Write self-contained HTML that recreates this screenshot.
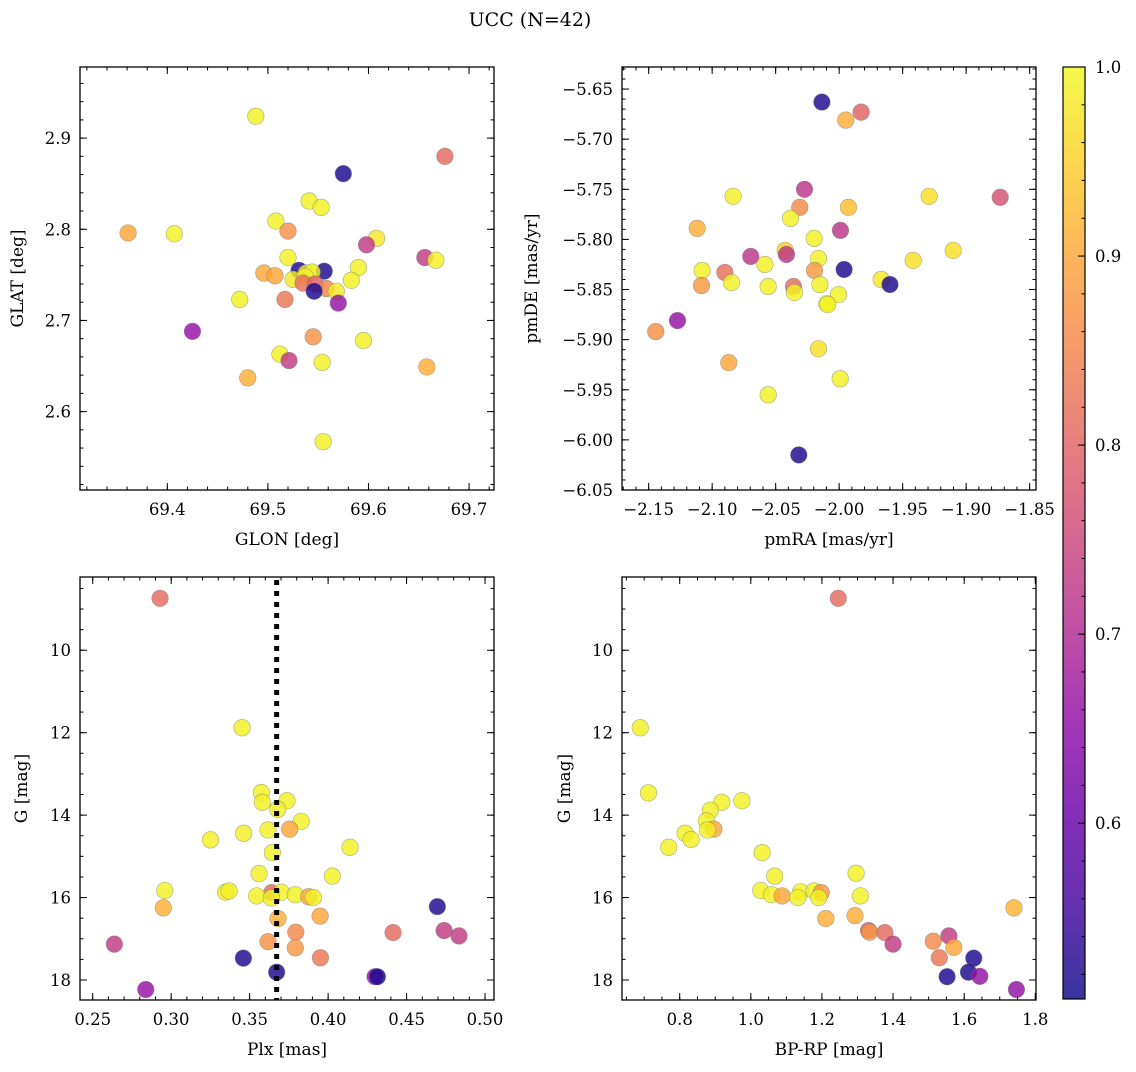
<!DOCTYPE html>
<html><head><meta charset="utf-8"><style>
body{margin:0;background:#fff;}
svg text{font-family:"DejaVu Serif","Liberation Serif",serif;fill:#000;}
</style></head><body>
<svg id="fig" width="1136" height="1067" xmlns="http://www.w3.org/2000/svg">
<defs><linearGradient id="cbg" x1="0" y1="1" x2="0" y2="0">
<stop offset="0" stop-color="#0d0887"/><stop offset="0.1" stop-color="#41049d"/><stop offset="0.2" stop-color="#6a00a8"/><stop offset="0.3" stop-color="#8f0da4"/><stop offset="0.4" stop-color="#b12a90"/><stop offset="0.5" stop-color="#cc4778"/><stop offset="0.6" stop-color="#e16462"/><stop offset="0.7" stop-color="#f2844b"/><stop offset="0.8" stop-color="#fca636"/><stop offset="0.9" stop-color="#fcce25"/><stop offset="1" stop-color="#f0f921"/>
</linearGradient></defs>
<text x="530" y="26" font-size="19" text-anchor="middle">UCC (N=42)</text>
</svg>
<script>
// ---- data ----
const glon=[69.488,69.676,69.575,69.541,69.553,69.508,69.361,69.407,69.520,69.608,69.598,69.520,69.656,69.667,69.590,69.531,69.556,69.496,69.507,69.538,69.544,69.525,69.537,69.583,69.535,69.547,69.558,69.546,69.568,69.472,69.517,69.570,69.425,69.545,69.595,69.512,69.521,69.554,69.658,69.480,69.555];
const glat=[2.924,2.880,2.861,2.831,2.824,2.809,2.796,2.795,2.798,2.790,2.783,2.769,2.769,2.766,2.758,2.755,2.754,2.752,2.749,2.752,2.753,2.745,2.748,2.744,2.741,2.740,2.735,2.732,2.732,2.723,2.723,2.719,2.688,2.682,2.678,2.663,2.656,2.654,2.649,2.637,2.567];
const probPos=[0.99,0.81,0.52,0.99,0.99,0.99,0.90,0.99,0.87,0.98,0.73,0.99,0.73,0.99,0.99,0.52,0.52,0.90,0.90,0.99,0.99,0.98,0.99,0.99,0.82,0.80,0.85,0.52,0.98,0.99,0.83,0.66,0.66,0.87,0.99,0.99,0.73,0.99,0.91,0.91,0.99];
const pmra=[-2.0136,-1.9827,-1.9948,-2.0273,-2.0835,-1.9291,-1.8732,-2.031,-1.9927,-2.0383,-2.1118,-1.999,-2.0197,-2.0425,-2.0415,-2.0696,-1.9102,-2.0163,-2.0585,-1.9417,-2.1079,-2.0194,-1.9961,-2.09,-2.0848,-2.1084,-2.0559,-2.036,-2.0152,-1.9669,-1.96,-2.0352,-2.0005,-2.0097,-2.009,-2.1273,-2.1444,-2.0163,-2.0869,-1.9992,-2.0559,-2.0318];
const pmde=[-5.663,-5.673,-5.681,-5.750,-5.757,-5.757,-5.758,-5.768,-5.768,-5.779,-5.789,-5.791,-5.799,-5.811,-5.815,-5.817,-5.811,-5.819,-5.825,-5.821,-5.831,-5.831,-5.830,-5.833,-5.843,-5.846,-5.847,-5.847,-5.845,-5.840,-5.845,-5.853,-5.855,-5.864,-5.865,-5.881,-5.892,-5.909,-5.923,-5.939,-5.955,-6.015];
const probPm=[0.52,0.80,0.91,0.72,0.99,0.97,0.77,0.86,0.93,0.99,0.91,0.72,0.99,0.95,0.72,0.72,0.97,0.99,0.99,0.97,0.99,0.88,0.52,0.82,0.99,0.88,0.99,0.81,0.99,0.98,0.52,0.99,0.99,1.0,0.99,0.66,0.87,0.97,0.90,0.99,0.99,0.52];
const plx=[0.2929,0.3452,0.3575,0.3581,0.3738,0.3679,0.3828,0.3755,0.3617,0.3462,0.325,0.414,0.3645,0.356,0.4027,0.2959,0.3347,0.3369,0.3641,0.3702,0.3791,0.3545,0.3638,0.3876,0.3906,0.295,0.4696,0.3681,0.3949,0.3794,0.4414,0.4739,0.4834,0.3617,0.2638,0.3791,0.346,0.3951,0.3672,0.4299,0.4314,0.2838];
const gPlx=[8.74,11.88,13.45,13.69,13.65,13.86,14.15,14.34,14.36,14.44,14.60,14.78,14.91,15.42,15.48,15.83,15.87,15.84,15.88,15.87,15.93,15.96,16.01,15.98,16.00,16.25,16.22,16.51,16.45,16.84,16.85,16.80,16.93,17.07,17.13,17.22,17.47,17.46,17.81,17.92,17.92,18.23];
const probPlx=[0.81,0.99,0.99,0.99,0.99,0.99,0.99,0.90,0.99,0.99,0.99,0.99,0.99,0.99,0.99,0.99,0.99,0.99,0.81,0.99,0.99,0.99,0.99,0.90,0.99,0.91,0.52,0.91,0.90,0.86,0.81,0.73,0.73,0.87,0.73,0.88,0.52,0.83,0.52,0.66,0.52,0.66];
const plxMean=0.3672;
const bprp=[1.246,0.689,0.712,0.918,0.975,0.886,0.875,0.896,0.878,0.815,0.832,0.769,1.032,1.296,1.067,1.028,1.140,1.178,1.198,1.058,1.088,1.132,1.191,1.308,1.740,1.211,1.293,1.331,1.334,1.377,1.400,1.513,1.557,1.571,1.530,1.627,1.612,1.552,1.644,1.747];
const gCmd=[8.74,11.88,13.46,13.69,13.65,13.88,14.14,14.34,14.36,14.44,14.59,14.78,14.91,15.41,15.48,15.83,15.86,15.84,15.88,15.93,15.96,16.00,16.00,15.96,16.25,16.51,16.44,16.80,16.84,16.85,17.13,17.06,16.93,17.21,17.46,17.47,17.81,17.92,17.91,18.23];
const probCmd=[0.81,0.99,0.99,0.99,0.99,0.99,0.99,0.90,0.99,0.99,0.99,0.99,0.99,0.99,0.99,0.99,0.99,0.99,0.88,0.99,0.90,0.99,0.99,0.99,0.92,0.91,0.91,0.78,0.88,0.81,0.73,0.86,0.73,0.90,0.83,0.52,0.52,0.52,0.66,0.66];
const cbTicks=[0.6,0.7,0.8,0.9,1.0];
const pMin=0.507,pMax=1.0;

const NS="http://www.w3.org/2000/svg";
const svg=document.getElementById('fig');
const stops=[[13,8,135],[65,4,157],[106,0,168],[143,13,164],[177,42,144],[204,71,120],[225,100,98],[242,132,75],[252,166,54],[252,206,37],[240,249,33]];
function plasma(p){let t=Math.max(0,Math.min(1,(p-pMin)/(pMax-pMin)))*10;let i=Math.min(9,Math.floor(t)),f=t-i;const a=stops[i],b=stops[i+1];return 'rgb('+a.map((v,k)=>Math.round(v+(b[k]-v)*f)).join(',')+')';}
function el(tag,attrs,parent){const e=document.createElementNS(NS,tag);for(const k in attrs)e.setAttribute(k,attrs[k]);(parent||svg).appendChild(e);return e;}
function fmt(v,d){let s=v.toFixed(d);return s.replace('-','\u2212');}

function panel(cfg){
  const g=el('g',{});
  
  
  const {L,T,R,B}=cfg;
  const sx=v=>L+(v-cfg.x0)/(cfg.x1-cfg.x0)*(R-L);
  const sy=v=>cfg.inv? T+(v-cfg.y0)/(cfg.y1-cfg.y0)*(B-T) : B-(v-cfg.y0)/(cfg.y1-cfg.y0)*(B-T);
  const tg=el('g',{stroke:'#000','stroke-width':1},g);
  function ticks(a0,a1,step){const n0=Math.ceil(a0/step-1e-6),n1=Math.floor(a1/step+1e-6);const out=[];for(let n=n0;n<=n1;n++)out.push(n*step);return out;}
  ticks(cfg.x0,cfg.x1,cfg.xmin).forEach(v=>{const x=sx(v);el('line',{x1:x,x2:x,y1:B,y2:B-3.5},tg);el('line',{x1:x,x2:x,y1:T,y2:T+3.5},tg);});
  ticks(Math.min(cfg.y0,cfg.y1),Math.max(cfg.y0,cfg.y1),cfg.ymin).forEach(v=>{const y=sy(v);el('line',{x1:L,x2:L+3.5,y1:y,y2:y},tg);el('line',{x1:R,x2:R-3.5,y1:y,y2:y},tg);});
  cfg.xt.forEach(v=>{const x=sx(v);el('line',{x1:x,x2:x,y1:B,y2:B-7},tg);el('line',{x1:x,x2:x,y1:T,y2:T+7},tg);
    const t=el('text',{x:x,y:B+25,'font-size':16.5,'text-anchor':'middle'},g);t.textContent=fmt(v,cfg.xd);
    
    });
  cfg.yt.forEach(v=>{const y=sy(v);el('line',{x1:L,x2:L+7,y1:y,y2:y},tg);el('line',{x1:R,x2:R-7,y1:y,y2:y},tg);
    const t=el('text',{x:L-9,y:y+6,'font-size':16.5,'text-anchor':'end'},g);t.textContent=fmt(v,cfg.yd);
    
    });
  const pg=el('g',{},g);
  cfg.xs.forEach((v,i)=>{const c=el('circle',{cx:sx(v),cy:sy(cfg.ys[i]),r:8.3,fill:plasma(cfg.ps[i]),'fill-opacity':0.82,stroke:'#777','stroke-opacity':0.6,'stroke-width':0.6},pg);
    
    });
  if(cfg.vline!==undefined){const x=sx(cfg.vline);const ln=el('line',{x1:x,x2:x,y1:T+3,y2:B,stroke:'#000','stroke-width':5,'stroke-dasharray':'5 6'},g);
    
    }
  const fr=el('rect',{x:L,y:T,width:R-L,height:B-T,fill:'none',stroke:'#000','stroke-width':1.3},g);
  
  
  const xl=el('text',{x:(L+R)/2,y:B+55,'font-size':17,'text-anchor':'middle'},g);xl.textContent=cfg.xlab;
  
  
  const yx=cfg.ylx, yy=(T+B)/2;
  const yl=el('text',{x:yx,y:yy,'font-size':17,'text-anchor':'middle',transform:'rotate(-90 '+yx+' '+yy+')'},g);yl.textContent=cfg.ylab;
  
  
}
panel({name:'glon-glat-panel',L:80,T:67,R:494,B:490,x0:69.3132,x1:69.7248,y0:2.514,y1:2.978,xt:[69.4,69.5,69.6,69.7],xd:1,xmin:0.02,yt:[2.6,2.7,2.8,2.9],yd:1,ymin:0.02,xs:glon,ys:glat,ps:probPos,xlab:'GLON [deg]',ylab:'GLAT [deg]',ylx:23});
panel({name:'pm-panel',L:622,T:67,R:1036,B:490,x0:-2.171,x1:-1.845,y0:-6.05,y1:-5.628,xt:[-2.15,-2.10,-2.05,-2.00,-1.95,-1.90,-1.85],xd:2,xmin:0.01,yt:[-6.05,-6.00,-5.95,-5.90,-5.85,-5.80,-5.75,-5.70,-5.65],yd:2,ymin:0.01,xs:pmra,ys:pmde,ps:probPm,xlab:'pmRA [mas/yr]',ylab:'pmDE [mas/yr]',ylx:537});
panel({name:'plx-g-panel',L:80,T:577,R:494,B:1000,x0:0.2419,x1:0.5057,y0:8.223,y1:18.485,inv:true,xt:[0.25,0.30,0.35,0.40,0.45,0.50],xd:2,xmin:0.01,yt:[10,12,14,16,18],yd:0,ymin:0.5,xs:plx,ys:gPlx,ps:probPlx,vline:plxMean,xlab:'Plx [mas]',ylab:'G [mag]',ylx:27});
panel({name:'cmd-panel',L:622,T:577,R:1036,B:1000,x0:0.6377,x1:1.802,y0:8.223,y1:18.485,inv:true,xt:[0.8,1.0,1.2,1.4,1.6,1.8],xd:1,xmin:0.05,yt:[10,12,14,16,18],yd:0,ymin:0.5,xs:bprp,ys:gCmd,ps:probCmd,xlab:'BP-RP [mag]',ylab:'G [mag]',ylx:570});

const cb=el('g',{});


const CT=67,CB=999,CL=1063,CR=1085;
el('rect',{x:CL,y:CT,width:CR-CL,height:CB-CT,fill:'url(#cbg)','fill-opacity':0.82},cb);
el('rect',{x:CL,y:CT,width:CR-CL,height:CB-CT,fill:'none',stroke:'#000','stroke-width':1.2},cb);
const cy=v=>CB-(v-pMin)/(pMax-pMin)*(CB-CT);
for(let v=0.52;v<=1.0001;v+=0.02){const y=cy(v);el('line',{x1:CR,x2:CR-3.5,y1:y,y2:y,stroke:'#000'},cb);}
cbTicks.forEach(v=>{const y=cy(v);el('line',{x1:CR,x2:CR-7,y1:y,y2:y,stroke:'#000'},cb);
  const t=el('text',{x:CR+10,y:y+6,'font-size':16.5},cb);t.textContent=v.toFixed(1);
  
  });
</script>
</body></html>
